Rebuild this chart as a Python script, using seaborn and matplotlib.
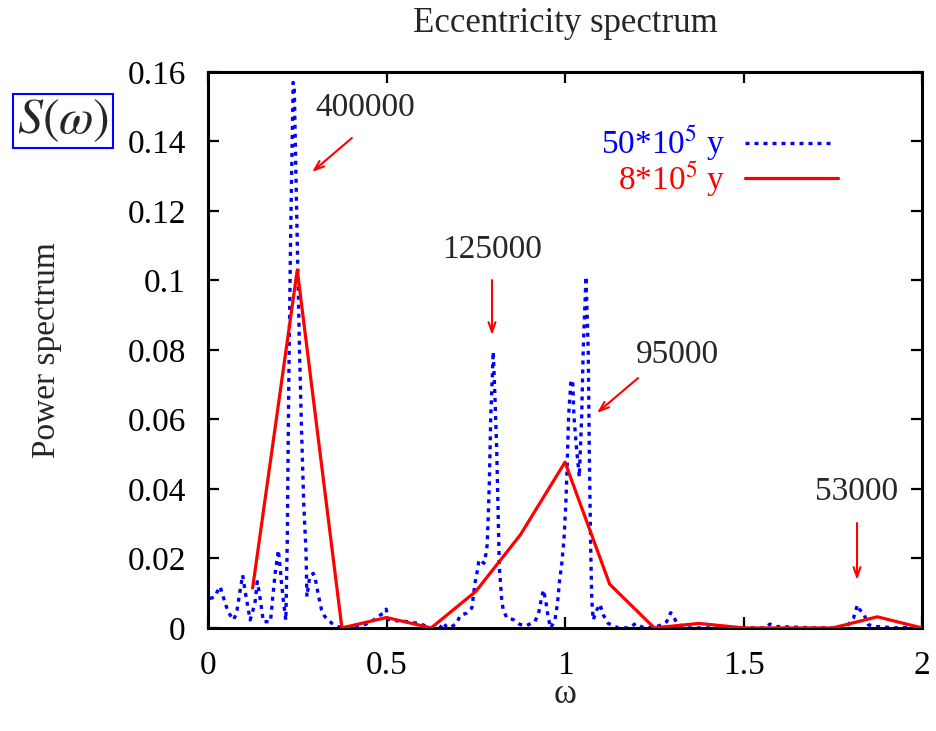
import matplotlib
matplotlib.use("Agg")
import matplotlib.pyplot as plt
import seaborn as sns
import pandas as pd
from matplotlib.ticker import FuncFormatter

# ---- data ----
omega_long = [0.005, 0.017, 0.034, 0.048, 0.057, 0.071, 0.080, 0.088, 0.097, 0.104,
              0.118, 0.125, 0.132, 0.138, 0.144, 0.148, 0.155, 0.175, 0.181, 0.188,
              0.197, 0.202, 0.206, 0.211, 0.218, 0.222, 0.226, 0.231, 0.2385, 0.2415,
              0.250, 0.2565, 0.262, 0.268, 0.2745, 0.277, 0.285, 0.295, 0.302, 0.309,
              0.318, 0.327, 0.346, 0.365, 0.379, 0.407, 0.440, 0.459, 0.477, 0.491,
              0.499, 0.505, 0.524, 0.552, 0.575, 0.594, 0.608, 0.627, 0.650, 0.659,
              0.668, 0.678, 0.697, 0.706, 0.725, 0.739, 0.743, 0.748, 0.755, 0.759,
              0.767, 0.773, 0.779, 0.782, 0.785, 0.788, 0.792, 0.7955, 0.799, 0.804,
              0.8087, 0.813, 0.816, 0.8227, 0.827, 0.837, 0.855, 0.874, 0.893, 0.916,
              0.926, 0.935, 0.940, 0.947, 0.953, 0.960, 0.972, 0.979, 0.984, 0.991,
              0.997, 1.002, 1.006, 1.010, 1.016, 1.0215, 1.025, 1.0327, 1.040, 1.0467,
              1.051, 1.0588, 1.065, 1.068, 1.072, 1.075, 1.079, 1.088, 1.098, 1.107,
              1.121, 1.149, 1.177, 1.199, 1.220, 1.252, 1.271, 1.285, 1.296, 1.304,
              1.313, 1.336, 1.400, 1.500, 1.560, 1.574, 1.593, 1.700, 1.761, 1.789,
              1.808, 1.819, 1.826, 1.836, 1.850, 1.869, 1.891, 1.920, 1.985]
power_long = [0.0085, 0.0088, 0.0119, 0.0071, 0.0045, 0.0023, 0.0042, 0.0095, 0.0152, 0.0105,
              0.0023, 0.0047, 0.0076, 0.0133, 0.0099, 0.0071, 0.0018, 0.0018, 0.0085, 0.0157,
              0.0224, 0.0176, 0.0128, 0.0080, 0.0022, 0.0250, 0.0680, 0.1100, 0.1570, 0.1560,
              0.1110, 0.0786, 0.0570, 0.0360, 0.0220, 0.0090, 0.0148, 0.0157, 0.0133, 0.0095,
              0.0052, 0.0033, 0.0014, 0.0003, 0.0000, 0.0006, 0.0010, 0.0019, 0.0033, 0.0043,
              0.0054, 0.0025, 0.0021, 0.0019, 0.0015, 0.0013, 0.0006, 0.0000, 0.0000, 0.0015,
              0.0003, 0.0000, 0.0014, 0.0035, 0.0043, 0.0057, 0.0090, 0.0130, 0.0167, 0.0196,
              0.0191, 0.0186, 0.0215, 0.0240, 0.0320, 0.0416, 0.0608, 0.0704, 0.0795, 0.0656,
              0.0512, 0.0320, 0.0176, 0.0081, 0.0052, 0.0029, 0.0024, 0.0010, 0.0007, 0.0019,
              0.0042, 0.0090, 0.0109, 0.0071, 0.0029, 0.0000, 0.0024, 0.0071, 0.0129, 0.0186,
              0.0253, 0.0350, 0.0464, 0.0608, 0.0704, 0.0714, 0.0608, 0.0512, 0.0435, 0.0608,
              0.0800, 0.1011, 0.0800, 0.0512, 0.0224, 0.0081, 0.0023, 0.0050, 0.0068, 0.0038,
              0.0013, 0.0000, 0.0000, 0.0013, 0.0000, 0.0002, 0.0009, 0.0018, 0.0044, 0.0033,
              0.0014, 0.0000, 0.0000, 0.0000, 0.0000, 0.0011, 0.0004, 0.0000, 0.0000, 0.0004,
              0.0028, 0.0066, 0.0052, 0.0042, 0.0009, 0.0004, 0.0003, 0.0000, 0.0002]

omega_short = [0.125, 0.25, 0.375, 0.5, 0.625, 0.75, 0.875, 1.0, 1.125, 1.25,
               1.375, 1.5, 1.625, 1.75, 1.875, 2.0]
power_short = [0.0115, 0.1030, 0.0000, 0.0030, 0.0000, 0.0105, 0.0268, 0.0477, 0.0126, 0.0000,
               0.0013, 0.0000, 0.0000, 0.0000, 0.0032, 0.0000]

label_long = r"50*10$^5$ y"
label_short = r"8*10$^5$ y"

# annotations: text, text position, arrow tail, arrow head (data coords)
ann_text = ["400000", "125000", "95000", "53000"]
ann_text_xy = [(0.44, 0.1496), (0.7955, 0.1088), (1.314, 0.0786), (1.818, 0.0391)]
ann_tail = [(0.403, 0.1410), (0.7955, 0.1001), (1.2045, 0.0719), (1.818, 0.0302)]
ann_head = [(0.2913, 0.1312), (0.7955, 0.0843), (1.0896, 0.0619), (1.818, 0.0138)]

xticks = [0, 0.5, 1, 1.5, 2]
yticks = [0, 0.02, 0.04, 0.06, 0.08, 0.10, 0.12, 0.14, 0.16]

# ---- style ----
sns.set_style("ticks")
plt.rcParams["font.family"] = ["Liberation Serif", "DejaVu Serif"]
plt.rcParams["mathtext.fontset"] = "stix"
FS = 24
DOT = (0, (1.2, 1.5))

df_long = pd.DataFrame({"omega": omega_long, "S": power_long})
df_short = pd.DataFrame({"omega": omega_short, "S": power_short})

fig = plt.figure(figsize=(9.37, 7.31), dpi=100)
ax = fig.add_axes([0.222, 0.141, 0.984 - 0.222, 0.9015 - 0.141])

sns.lineplot(data=df_long, x="omega", y="S", ax=ax, color="#0000ff",
             linestyle=DOT, lw=2.4, estimator=None, sort=False, zorder=2)
sns.lineplot(data=df_short, x="omega", y="S", ax=ax, color="#ff0000",
             lw=2.3, estimator=None, sort=False, zorder=3)

ax.set_xlim(0, 2)
ax.set_ylim(0, 0.16)
ax.set_xticks(xticks)
ax.set_yticks(yticks)
fmt = FuncFormatter(lambda v, p: "%g" % v)
ax.xaxis.set_major_formatter(fmt)
ax.yaxis.set_major_formatter(fmt)
ax.tick_params(direction="in", length=8, width=1.6, top=True, right=True,
               labelsize=FS, pad=16, colors="black")
for s in ax.spines.values():
    s.set_linewidth(2.2)
    s.set_color("black")
    s.set_visible(True)

ax.set_xlabel(r"ω", fontsize=FS + 1)
ax.set_ylabel("Power spectrum", fontsize=FS)
ax.xaxis.set_label_coords(0.5, -0.09)
ax.yaxis.set_label_coords(-0.205, 0.5)
ax.set_title("Eccentricity spectrum", fontsize=FS + 1, pad=29)

for t, txy, tail, head in zip(ann_text, ann_text_xy, ann_tail, ann_head):
    ax.text(txy[0], txy[1], t, fontsize=FS, ha="center", va="center")
    ax.annotate("", xy=head, xytext=tail,
                arrowprops=dict(arrowstyle="->,head_length=0.7,head_width=0.25",
                                color="#ff0000", lw=1.5, shrinkA=0, shrinkB=0))

# legend (gnuplot style, right-aligned text)
ax.text(0.724, 0.871, label_long, transform=ax.transAxes, fontsize=FS,
        color="#0000ff", ha="right", va="center")
ax.plot([0.752, 0.878], [0.873, 0.873], transform=ax.transAxes, color="#0000ff",
        linestyle=DOT, lw=2.4)
ax.text(0.724, 0.806, label_short, transform=ax.transAxes, fontsize=FS,
        color="#ff0000", ha="right", va="center")
ax.plot([0.752, 0.882], [0.809, 0.809], transform=ax.transAxes, color="#ff0000", lw=2.3)

# S(omega) box
fig.text(63 / 937, 1 - 121 / 731, r"$S(\omega)$", fontsize=36, ha="center", va="center",
         bbox=dict(boxstyle="square,pad=0.08", facecolor="white", edgecolor="#0000ff", lw=1.5))

fig.savefig("out.png", dpi=100)
